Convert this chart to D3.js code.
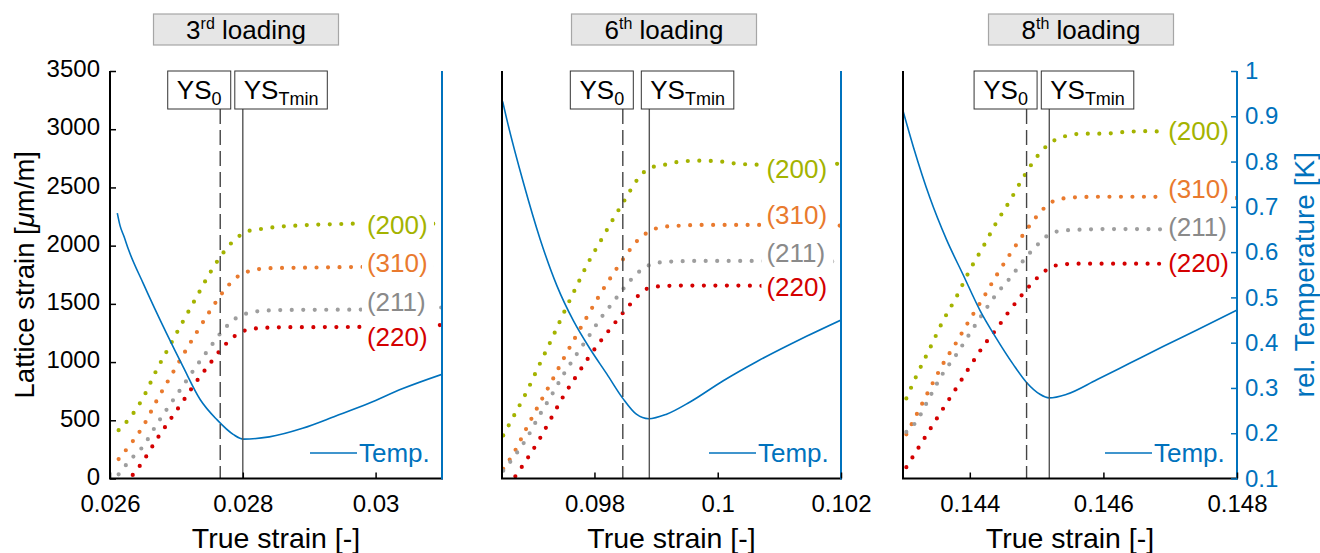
<!DOCTYPE html>
<html>
<head>
<meta charset="utf-8">
<script src="https://cdn.jsdelivr.net/npm/d3@7"></script>
<style>
  body { margin: 0; background: #fff; }
  svg { font-family: "Liberation Sans", Arial, sans-serif; }
</style>
</head>
<body>
<svg id="chart"></svg>
<script>
// ---- data ----
const loadingNum = ['3', '6', '8'];
const loadingSup = ['rd', 'th', 'th'];
const planes = ['(200)', '(310)', '(211)', '(220)'];
const planeColors = ['#a4b300', '#e97a2e', '#9e9e9e', '#d40000'];
const planeTextColors = ['#a4b300', '#e97a2e', '#8a8a8a', '#d40000'];

const xDomains = [[0.026, 0.031], [0.0965, 0.102], [0.143, 0.148]];
const xTicks = [[0.026, 0.028, 0.03], [0.098, 0.1, 0.102], [0.144, 0.146, 0.148]];
const xTickLabels = [['0.026', '0.028', '0.03'], ['0.098', '0.1', '0.102'], ['0.144', '0.146', '0.148']];
const latticeTicks = [0, 500, 1000, 1500, 2000, 2500, 3000, 3500];
const tempTicks = [0.1, 0.2, 0.3, 0.4, 0.5, 0.6, 0.7, 0.8, 0.9, 1];
const tempTickLabels = ['0.1', '0.2', '0.3', '0.4', '0.5', '0.6', '0.7', '0.8', '0.9', '1'];

// 3rd loading
const strain3rd = [0.02613, 0.0263, 0.0265, 0.0267, 0.0269, 0.0271, 0.0273, 0.0275, 0.0277, 0.0279, 0.0281, 0.0283, 0.0285, 0.0288, 0.0291, 0.0295, 0.0299, 0.0303, 0.0307, 0.031];
const lat200_3rd = [415, 521, 695, 930, 1140, 1350, 1555, 1760, 1935, 2062, 2128, 2145, 2160, 2172, 2180, 2186, 2192, 2192, 2190, 2188];
const lat310_3rd = [167, 288, 450, 665, 864, 1060, 1250, 1433, 1600, 1725, 1782, 1802, 1808, 1810, 1812, 1815, 1818, 1820, 1822, 1824];
const lat211_3rd = [36, 157, 278, 462, 631, 797, 964, 1121, 1272, 1378, 1424, 1440, 1446, 1448, 1449, 1450, 1451, 1458, 1465, 1469];
const lat220_3rd = [-125, 0, 150, 333, 500, 665, 832, 983, 1128, 1232, 1282, 1293, 1298, 1300, 1300, 1301, 1302, 1308, 1314, 1318];
const tempStrain3rd = [0.02611, 0.02615, 0.02621, 0.02628, 0.0265, 0.02685, 0.0271, 0.02736, 0.02761, 0.02786, 0.02801, 0.0284, 0.0289, 0.0294, 0.0299, 0.0304, 0.031];
const temp3rd = [0.686, 0.659, 0.635, 0.605, 0.531, 0.421, 0.347, 0.274, 0.230, 0.197, 0.187, 0.192, 0.211, 0.238, 0.266, 0.298, 0.330];

// 6th loading
const strain6th = [0.09652, 0.0967, 0.0969, 0.0971, 0.0973, 0.0975, 0.0977, 0.0979, 0.0981, 0.0983, 0.0985, 0.0987, 0.0989, 0.0991, 0.0994, 0.0997, 0.1, 0.1003, 0.1007, 0.1011, 0.1015, 0.1019, 0.102];
const lat200_6th = [370, 545, 745, 970, 1190, 1420, 1640, 1855, 2040, 2225, 2400, 2570, 2668, 2690, 2722, 2730, 2725, 2705, 2695, 2695, 2700, 2703, 2703];
const lat310_6th = [82, 228, 435, 635, 828, 1030, 1222, 1408, 1590, 1755, 1910, 2045, 2125, 2160, 2172, 2178, 2178, 2178, 2178, 2176, 2174, 2172, 2172];
const lat211_6th = [67, 190, 345, 535, 712, 895, 1058, 1215, 1375, 1512, 1650, 1765, 1835, 1858, 1866, 1869, 1869, 1869, 1868, 1867, 1865, 1864, 1863];
const lat220_6th = [-150, 5, 162, 330, 520, 710, 875, 1035, 1180, 1315, 1446, 1565, 1640, 1652, 1657, 1657, 1657, 1657, 1655, 1652, 1648, 1643, 1642];
const tempStrain6th = [0.09651, 0.09658, 0.09685, 0.09712, 0.09739, 0.09766, 0.09793, 0.0982, 0.09846, 0.09868, 0.09888, 0.09917, 0.09955, 0.10009, 0.10063, 0.10117, 0.10144, 0.102];
const temp6th = [0.933, 0.892, 0.752, 0.628, 0.526, 0.448, 0.386, 0.331, 0.277, 0.242, 0.232, 0.242, 0.269, 0.316, 0.358, 0.396, 0.414, 0.450];

// 8th loading
const strain8th = [0.14305, 0.1432, 0.1434, 0.1436, 0.1438, 0.144, 0.1442, 0.1444, 0.1446, 0.1448, 0.145, 0.1452, 0.1454, 0.1457, 0.146, 0.1463, 0.1466, 0.1469, 0.1472, 0.1476, 0.148];
const lat200_8th = [688, 880, 1115, 1355, 1560, 1790, 1990, 2200, 2385, 2585, 2760, 2880, 2935, 2962, 2962, 2975, 2983, 2980, 2975, 2970, 2966];
const lat310_8th = [379, 545, 770, 985, 1170, 1365, 1550, 1745, 1925, 2095, 2250, 2365, 2405, 2418, 2420, 2420, 2420, 2418, 2415, 2412, 2409];
const lat211_8th = [400, 490, 700, 905, 1065, 1245, 1420, 1585, 1720, 1870, 2000, 2100, 2130, 2138, 2142, 2142, 2142, 2140, 2136, 2131, 2127];
const lat220_8th = [97, 235, 418, 600, 778, 960, 1135, 1285, 1445, 1590, 1718, 1810, 1840, 1845, 1845, 1845, 1845, 1844, 1842, 1840, 1839];
const tempStrain8th = [0.143, 0.14316, 0.1434, 0.14365, 0.1439, 0.14415, 0.1444, 0.14465, 0.14485, 0.14505, 0.14519, 0.14545, 0.1459, 0.1464, 0.1469, 0.1474, 0.148];
const temp8th = [0.912, 0.830, 0.721, 0.628, 0.550, 0.472, 0.409, 0.352, 0.312, 0.286, 0.278, 0.286, 0.318, 0.355, 0.392, 0.428, 0.472];

// yield strain markers and plane label anchors
const ys0 = [0.02766, 0.09846, 0.14485];
const ysTmin = [0.028, 0.09889, 0.14519];
const labelStrain = [0.02987, 0.10079, 0.14697];
const labelLattice = [[2181, 1854, 1521, 1218], [2657, 2265, 1938, 1642], [2985, 2491, 2157, 1854]];

const strains = [strain3rd, strain6th, strain8th];
const lattice = [
  [lat200_3rd, lat310_3rd, lat211_3rd, lat220_3rd],
  [lat200_6th, lat310_6th, lat211_6th, lat220_6th],
  [lat200_8th, lat310_8th, lat211_8th, lat220_8th]
];
const tempStrains = [tempStrain3rd, tempStrain6th, tempStrain8th];
const temps = [temp3rd, temp6th, temp8th];

// ---- layout ----
const width = 1320, height = 553;
const plotTop = 71, plotBottom = 478.5;
const frames = [[110, 442], [502, 841], [903, 1237]];
const titleCenters = [246, 664, 1081];
const blue = '#0072bd';
const font = '"Liberation Sans", Arial, sans-serif';

const svg = d3.select('#chart').attr('width', width).attr('height', height);

const yLat = d3.scaleLinear().domain([0, 3500]).range([plotBottom, plotTop]);
const yTemp = d3.scaleLinear().domain([0.1, 1]).range([plotBottom, plotTop]);

frames.forEach(([left, right], p) => {
  const x = d3.scaleLinear().domain(xDomains[p]).range([left, right]);
  const g = svg.append('g');

  const clipId = 'clip' + p;
  svg.append('clipPath').attr('id', clipId)
    .append('rect').attr('x', left).attr('y', plotTop).attr('width', right - left).attr('height', plotBottom - plotTop);

  const plot = g.append('g').attr('clip-path', `url(#${clipId})`);

  // lattice strain series, dotted
  lattice[p].forEach((vals, i) => {
    const pts = strains[p].map((s, k) => [s, vals[k]]);
    plot.append('path')
      .datum(pts)
      .attr('fill', 'none')
      .attr('stroke', planeColors[i])
      .attr('stroke-width', 4.2)
      .attr('stroke-linecap', 'round')
      .attr('stroke-dasharray', '0,11.5')
      .attr('d', d3.line().x(d => x(d[0])).y(d => yLat(d[1])).curve(d3.curveMonotoneX));
  });

  // temperature
  const tpts = tempStrains[p].map((s, k) => [s, temps[p][k]]);
  plot.append('path')
    .datum(tpts)
    .attr('fill', 'none')
    .attr('stroke', blue)
    .attr('stroke-width', 1.6)
    .attr('d', d3.line().x(d => x(d[0])).y(d => yTemp(d[1])).curve(d3.curveMonotoneX));

  // plane labels with white background
  planes.forEach((name, i) => {
    const lx = x(labelStrain[p]);
    const ly = yLat(labelLattice[p][i]);
    g.append('rect')
      .attr('x', lx - 5).attr('y', ly - 15)
      .attr('width', 72).attr('height', 30)
      .attr('fill', '#fff');
    g.append('text')
      .attr('x', lx).attr('y', ly).attr('dy', '0.35em')
      .attr('font-size', 26)
      .attr('fill', planeTextColors[i])
      .text(name);
  });

  // yield lines
  const boxTop = plotTop, boxBottom = 109;
  g.append('line')
    .attr('x1', x(ys0[p])).attr('x2', x(ys0[p]))
    .attr('y1', boxBottom).attr('y2', plotBottom)
    .attr('stroke', '#444').attr('stroke-width', 1.4)
    .attr('stroke-dasharray', '15,6');
  g.append('line')
    .attr('x1', x(ysTmin[p])).attr('x2', x(ysTmin[p]))
    .attr('y1', boxBottom).attr('y2', plotBottom)
    .attr('stroke', '#555').attr('stroke-width', 1.4);

  const ysBoxes = [
    { x0: x(ys0[p]) + 10.5 - 63, w: 63, sub: '0' },
    { x0: x(ysTmin[p]) - 8, w: 92.5, sub: 'Tmin' }
  ];
  ysBoxes.forEach(b => {
    g.append('rect')
      .attr('x', b.x0).attr('y', boxTop)
      .attr('width', b.w).attr('height', boxBottom - boxTop)
      .attr('fill', '#fff').attr('stroke', '#333').attr('stroke-width', 1);
    const t = g.append('text')
      .attr('x', b.x0 + b.w / 2).attr('y', boxTop + 28)
      .attr('text-anchor', 'middle')
      .attr('font-size', 26);
    t.append('tspan').text('YS');
    t.append('tspan').attr('font-size', 18).attr('dy', 6).text(b.sub);
  });

  // axes
  g.append('line').attr('x1', left).attr('x2', left).attr('y1', plotTop).attr('y2', plotBottom)
    .attr('stroke', '#000').attr('stroke-width', 2);
  g.append('line').attr('x1', left - 1).attr('x2', right + 1).attr('y1', plotBottom).attr('y2', plotBottom)
    .attr('stroke', '#000').attr('stroke-width', 2);
  g.append('line').attr('x1', right).attr('x2', right).attr('y1', plotTop).attr('y2', plotBottom + 1)
    .attr('stroke', blue).attr('stroke-width', 2);

  const xAxis = d3.axisBottom(x).tickValues(xTicks[p])
    .tickFormat((d, i) => xTickLabels[p][i])
    .tickSizeInner(-6).tickSizeOuter(0).tickPadding(16);
  const xa = g.append('g').attr('transform', `translate(0,${plotBottom})`).call(xAxis);
  xa.select('.domain').remove();
  xa.selectAll('line').attr('stroke', '#000').attr('stroke-width', 1.5);
  xa.selectAll('text').attr('font-size', 24).attr('fill', '#000').attr('font-family', font);

  if (p === 0) {
    const yAxis = d3.axisLeft(yLat).tickValues(latticeTicks)
      .tickFormat(d3.format('d'))
      .tickSizeInner(-6).tickSizeOuter(0).tickPadding(10);
    const ya = g.append('g').attr('transform', `translate(${left},0)`).call(yAxis);
    ya.select('.domain').remove();
    ya.selectAll('line').attr('stroke', '#000').attr('stroke-width', 1.5);
    ya.selectAll('text').attr('font-size', 24).attr('fill', '#000').attr('font-family', font)
      .attr('dy', '0.24em');

    const yl = g.append('text')
      .attr('transform', `translate(34,${(plotTop + plotBottom) / 2}) rotate(-90)`)
      .attr('text-anchor', 'middle').attr('font-size', 27.5);
    yl.append('tspan').text('Lattice strain [');
    yl.append('tspan').attr('font-style', 'italic').text('μ');
    yl.append('tspan').text('m/m]');
  }

  if (p === 2) {
    const rAxis = d3.axisRight(yTemp).tickValues(tempTicks)
      .tickFormat((d, i) => tempTickLabels[i])
      .tickSizeInner(-6).tickSizeOuter(0).tickPadding(8);
    const ra = g.append('g').attr('transform', `translate(${right},0)`).call(rAxis);
    ra.select('.domain').remove();
    ra.selectAll('line').attr('stroke', blue).attr('stroke-width', 1.5);
    ra.selectAll('text').attr('font-size', 24).attr('fill', blue).attr('font-family', font);

    g.append('text')
      .attr('transform', `translate(1314,${(plotTop + plotBottom) / 2}) rotate(-90)`)
      .attr('text-anchor', 'middle').attr('font-size', 28).attr('fill', blue)
      .text('rel. Temperature [K]');
  }

  // x label
  g.append('text')
    .attr('x', (left + right) / 2).attr('y', 548)
    .attr('text-anchor', 'middle').attr('font-size', 28.5)
    .text('True strain [-]');

  // legend
  g.append('line')
    .attr('x1', right - 132).attr('x2', right - 85)
    .attr('y1', 453).attr('y2', 453)
    .attr('stroke', blue).attr('stroke-width', 1.6);
  g.append('text')
    .attr('x', right - 83).attr('y', 453).attr('dy', '0.35em')
    .attr('font-size', 26).attr('fill', blue)
    .text('Temp.');

  // title box
  const tc = titleCenters[p];
  g.append('rect')
    .attr('x', tc - 92.5).attr('y', 14)
    .attr('width', 185).attr('height', 31)
    .attr('fill', '#e6e6e6').attr('stroke', '#a6a6a6').attr('stroke-width', 1.2);
  const tt = g.append('text')
    .attr('x', tc).attr('y', 39)
    .attr('text-anchor', 'middle').attr('font-size', 26);
  tt.append('tspan').text(loadingNum[p]);
  tt.append('tspan').attr('font-size', 16).attr('dy', -10).text(loadingSup[p]);
  tt.append('tspan').attr('dy', 10).text(' loading');
});
</script>
</body>
</html>
